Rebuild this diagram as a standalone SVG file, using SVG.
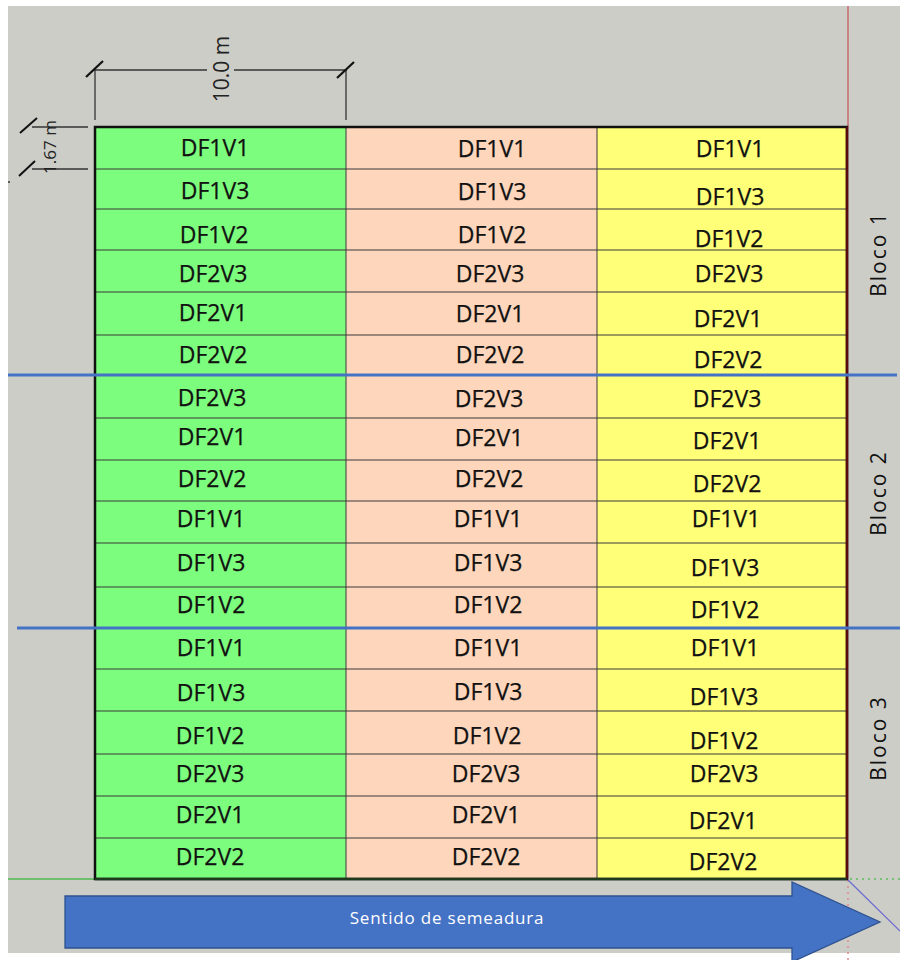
<svg xmlns="http://www.w3.org/2000/svg" width="900" height="960" viewBox="0 0 900 960">
<style>
.g{fill:#7dfd7d}.p{fill:#fdd6bb}.y{fill:#ffff78}
.c{stroke:#3a3a3a;stroke-width:1}
.t{font-family:"Open Sans","Liberation Sans",sans-serif;font-size:23px;fill:#111;stroke:#111;stroke-width:0.25;text-anchor:middle}
.b{font-family:"Open Sans","Liberation Sans",sans-serif;font-size:21px;fill:#111;text-anchor:middle;letter-spacing:2px}
.d{stroke:#333;stroke-width:1.3;fill:none}
.dt{font-family:"Open Sans","Liberation Sans",sans-serif;fill:#222;text-anchor:middle}
</style>
<rect x="0" y="0" width="900" height="960" fill="#ffffff"/>
<rect x="8" y="6" width="892" height="947" fill="#cdcdc8"/>
<line x1="848" y1="6" x2="848" y2="127" stroke="#c98585" stroke-width="2"/>
<line x1="848" y1="880" x2="848" y2="960" stroke="#e08a8a" stroke-width="1.5" stroke-dasharray="2 4"/>
<line x1="850" y1="879" x2="900" y2="879" stroke="#5cbf5c" stroke-width="1.5" stroke-dasharray="2 4"/>
<line x1="8" y1="879" x2="95" y2="879" stroke="#4fb84f" stroke-width="1.3"/>
<line x1="848" y1="880" x2="900" y2="931" stroke="#6a6ad0" stroke-width="1.2"/>
<g id="dimensions">
<line class="d" x1="93" y1="70" x2="207" y2="70"/>
<line class="d" x1="234" y1="70" x2="347" y2="70"/>
<line class="d" x1="95" y1="70" x2="95" y2="120"/>
<line class="d" x1="346" y1="70" x2="346" y2="120"/>
<line x1="86" y1="77" x2="103" y2="61" stroke="#111" stroke-width="2.2"/>
<line x1="337" y1="78" x2="354" y2="62" stroke="#111" stroke-width="2.2"/>
<text class="dt" font-size="21" transform="translate(229,69) rotate(-90)">10.0 m</text>
<line class="d" x1="32" y1="127" x2="88" y2="127"/>
<line class="d" x1="32" y1="169" x2="88" y2="169"/>
<line x1="20" y1="133" x2="37" y2="118" stroke="#111" stroke-width="2"/>
<line x1="19" y1="176" x2="35" y2="161" stroke="#111" stroke-width="2"/>
<text class="dt" font-size="17" transform="translate(56,147) rotate(-90)">1.67 m</text>
<circle cx="9" cy="182" r="1" fill="#333"/>
</g>
<g id="cells">
<g id="c-g-1"><rect class="g" x="95" y="127" width="251" height="42"/><text class="t" x="215" y="156">DF1V1</text></g>
<g id="c-g-2"><rect class="g" x="95" y="169" width="251" height="40"/><text class="t" x="215" y="199">DF1V3</text></g>
<g id="c-g-3"><rect class="g" x="95" y="209" width="251" height="41"/><text class="t" x="214" y="243">DF1V2</text></g>
<g id="c-g-4"><rect class="g" x="95" y="250" width="251" height="42"/><text class="t" x="213" y="282">DF2V3</text></g>
<g id="c-g-5"><rect class="g" x="95" y="292" width="251" height="43"/><text class="t" x="213" y="321">DF2V1</text></g>
<g id="c-g-6"><rect class="g" x="95" y="335" width="251" height="40"/><text class="t" x="213" y="363">DF2V2</text></g>
<g id="c-g-7"><rect class="g" x="95" y="375" width="251" height="43"/><text class="t" x="212" y="406">DF2V3</text></g>
<g id="c-g-8"><rect class="g" x="95" y="418" width="251" height="42"/><text class="t" x="212" y="445">DF2V1</text></g>
<g id="c-g-9"><rect class="g" x="95" y="460" width="251" height="41"/><text class="t" x="212" y="487">DF2V2</text></g>
<g id="c-g-10"><rect class="g" x="95" y="501" width="251" height="42"/><text class="t" x="211" y="527">DF1V1</text></g>
<g id="c-g-11"><rect class="g" x="95" y="543" width="251" height="44"/><text class="t" x="211" y="571">DF1V3</text></g>
<g id="c-g-12"><rect class="g" x="95" y="587" width="251" height="41"/><text class="t" x="211" y="613">DF1V2</text></g>
<g id="c-g-13"><rect class="g" x="95" y="628" width="251" height="41"/><text class="t" x="211" y="656">DF1V1</text></g>
<g id="c-g-14"><rect class="g" x="95" y="669" width="251" height="42"/><text class="t" x="211" y="701">DF1V3</text></g>
<g id="c-g-15"><rect class="g" x="95" y="711" width="251" height="43"/><text class="t" x="210" y="744">DF1V2</text></g>
<g id="c-g-16"><rect class="g" x="95" y="754" width="251" height="42"/><text class="t" x="210" y="782">DF2V3</text></g>
<g id="c-g-17"><rect class="g" x="95" y="796" width="251" height="42"/><text class="t" x="210" y="823">DF2V1</text></g>
<g id="c-g-18"><rect class="g" x="95" y="838" width="251" height="41"/><text class="t" x="210" y="865">DF2V2</text></g>

<g id="c-p-1"><rect class="p" x="346" y="127" width="251" height="42"/><text class="t" x="492" y="157">DF1V1</text></g>
<g id="c-p-2"><rect class="p" x="346" y="169" width="251" height="40"/><text class="t" x="492" y="200">DF1V3</text></g>
<g id="c-p-3"><rect class="p" x="346" y="209" width="251" height="41"/><text class="t" x="492" y="243">DF1V2</text></g>
<g id="c-p-4"><rect class="p" x="346" y="250" width="251" height="42"/><text class="t" x="490" y="282">DF2V3</text></g>
<g id="c-p-5"><rect class="p" x="346" y="292" width="251" height="43"/><text class="t" x="490" y="322">DF2V1</text></g>
<g id="c-p-6"><rect class="p" x="346" y="335" width="251" height="40"/><text class="t" x="490" y="363">DF2V2</text></g>
<g id="c-p-7"><rect class="p" x="346" y="375" width="251" height="43"/><text class="t" x="489" y="407">DF2V3</text></g>
<g id="c-p-8"><rect class="p" x="346" y="418" width="251" height="42"/><text class="t" x="489" y="446">DF2V1</text></g>
<g id="c-p-9"><rect class="p" x="346" y="460" width="251" height="41"/><text class="t" x="489" y="487">DF2V2</text></g>
<g id="c-p-10"><rect class="p" x="346" y="501" width="251" height="42"/><text class="t" x="488" y="527">DF1V1</text></g>
<g id="c-p-11"><rect class="p" x="346" y="543" width="251" height="44"/><text class="t" x="488" y="571">DF1V3</text></g>
<g id="c-p-12"><rect class="p" x="346" y="587" width="251" height="41"/><text class="t" x="488" y="613">DF1V2</text></g>
<g id="c-p-13"><rect class="p" x="346" y="628" width="251" height="41"/><text class="t" x="488" y="656">DF1V1</text></g>
<g id="c-p-14"><rect class="p" x="346" y="669" width="251" height="42"/><text class="t" x="488" y="700">DF1V3</text></g>
<g id="c-p-15"><rect class="p" x="346" y="711" width="251" height="43"/><text class="t" x="487" y="744">DF1V2</text></g>
<g id="c-p-16"><rect class="p" x="346" y="754" width="251" height="42"/><text class="t" x="486" y="782">DF2V3</text></g>
<g id="c-p-17"><rect class="p" x="346" y="796" width="251" height="42"/><text class="t" x="486" y="823">DF2V1</text></g>
<g id="c-p-18"><rect class="p" x="346" y="838" width="251" height="41"/><text class="t" x="486" y="865">DF2V2</text></g>

<g id="c-y-1"><rect class="y" x="597" y="127" width="250" height="42"/><text class="t" x="730" y="157">DF1V1</text></g>
<g id="c-y-2"><rect class="y" x="597" y="169" width="250" height="40"/><text class="t" x="730" y="205">DF1V3</text></g>
<g id="c-y-3"><rect class="y" x="597" y="209" width="250" height="41"/><text class="t" x="729" y="247">DF1V2</text></g>
<g id="c-y-4"><rect class="y" x="597" y="250" width="250" height="42"/><text class="t" x="729" y="282">DF2V3</text></g>
<g id="c-y-5"><rect class="y" x="597" y="292" width="250" height="43"/><text class="t" x="728" y="327">DF2V1</text></g>
<g id="c-y-6"><rect class="y" x="597" y="335" width="250" height="40"/><text class="t" x="728" y="368">DF2V2</text></g>
<g id="c-y-7"><rect class="y" x="597" y="375" width="250" height="43"/><text class="t" x="727" y="407">DF2V3</text></g>
<g id="c-y-8"><rect class="y" x="597" y="418" width="250" height="42"/><text class="t" x="727" y="449">DF2V1</text></g>
<g id="c-y-9"><rect class="y" x="597" y="460" width="250" height="41"/><text class="t" x="727" y="492">DF2V2</text></g>
<g id="c-y-10"><rect class="y" x="597" y="501" width="250" height="42"/><text class="t" x="726" y="527">DF1V1</text></g>
<g id="c-y-11"><rect class="y" x="597" y="543" width="250" height="44"/><text class="t" x="725" y="576">DF1V3</text></g>
<g id="c-y-12"><rect class="y" x="597" y="587" width="250" height="41"/><text class="t" x="725" y="618">DF1V2</text></g>
<g id="c-y-13"><rect class="y" x="597" y="628" width="250" height="41"/><text class="t" x="725" y="656">DF1V1</text></g>
<g id="c-y-14"><rect class="y" x="597" y="669" width="250" height="42"/><text class="t" x="724" y="705">DF1V3</text></g>
<g id="c-y-15"><rect class="y" x="597" y="711" width="250" height="43"/><text class="t" x="724" y="749">DF1V2</text></g>
<g id="c-y-16"><rect class="y" x="597" y="754" width="250" height="42"/><text class="t" x="724" y="782">DF2V3</text></g>
<g id="c-y-17"><rect class="y" x="597" y="796" width="250" height="42"/><text class="t" x="723" y="829">DF2V1</text></g>
<g id="c-y-18"><rect class="y" x="597" y="838" width="250" height="41"/><text class="t" x="723" y="870">DF2V2</text></g>
</g>
<g id="gridlines" class="c">
<line x1="95" y1="169" x2="847" y2="169"/><line x1="95" y1="209" x2="847" y2="209"/>
<line x1="95" y1="250" x2="847" y2="250"/><line x1="95" y1="292" x2="847" y2="292"/>
<line x1="95" y1="335" x2="847" y2="335"/><line x1="95" y1="418" x2="847" y2="418"/>
<line x1="95" y1="460" x2="847" y2="460"/><line x1="95" y1="501" x2="847" y2="501"/>
<line x1="95" y1="543" x2="847" y2="543"/><line x1="95" y1="587" x2="847" y2="587"/>
<line x1="95" y1="669" x2="847" y2="669"/><line x1="95" y1="711" x2="847" y2="711"/>
<line x1="95" y1="754" x2="847" y2="754"/><line x1="95" y1="796" x2="847" y2="796"/>
<line x1="95" y1="838" x2="847" y2="838"/>
<line x1="346" y1="127" x2="346" y2="879"/><line x1="597" y1="127" x2="597" y2="879"/>
</g>
<rect x="95" y="127" width="752" height="752" fill="none" stroke="#111" stroke-width="2.5"/>
<line x1="847" y1="127" x2="847" y2="879" stroke="#5a0a0a" stroke-width="2.5"/>
<line x1="95" y1="879" x2="847" y2="879" stroke="#1e3a1e" stroke-width="2.5"/>
<g id="block-separators" stroke="#4472c4" stroke-width="3">
<line x1="8" y1="375" x2="897" y2="375"/>
<line x1="17" y1="628" x2="900" y2="628"/>
</g>
<g id="block-labels">
<text class="b" transform="translate(886,254) rotate(-90)">Bloco 1</text>
<text class="b" transform="translate(886,493) rotate(-90)">Bloco 2</text>
<text class="b" transform="translate(886,738) rotate(-90)">Bloco 3</text>
</g>
<g id="arrow">
<polygon points="65,896 792,896 792,882 880,922 792,962 792,948 65,948" fill="#4472c4" stroke="#2f528f" stroke-width="1.3"/>
<text x="447" y="924" font-family="'Open Sans','Liberation Sans',sans-serif" font-size="17" fill="#ffffff" text-anchor="middle" letter-spacing="0.8">Sentido de semeadura</text>
</g>
</svg>
